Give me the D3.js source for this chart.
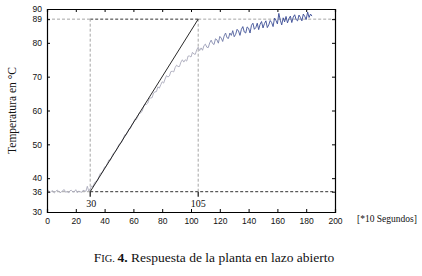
<!DOCTYPE html>
<html><head><meta charset="utf-8">
<script src="https://cdn.jsdelivr.net/npm/d3@7"></script>
<style>body{margin:0;background:#fff}svg{display:block}</style>
</head><body>
<svg id="c" width="422" height="276"></svg>
<script>
// ---- data ----
const xTicks = [0,20,40,60,80,100,120,140,160,180,200];
const yTickValues = [30,36,40,50,60,70,80,87,90];
const yTickLabels = ["30","36","40","50","60","70","80","89","90"];
const tStart = 0; // first sample (x units of 10 s), one sample per unit
const temperature = [
 36.0,36.4,35.7,36.1,36.3,35.6,36.0,36.5,36.2,35.7,35.9,36.4,36.6,35.8,36.1,35.6,36.3,36.4,35.9,36.0,36.6,35.7,36.2,36.0,35.8,36.4,36.3,36.1,37.6,36.2,
 36.8,37.7,37.5,38.7,39.0,39.2,40.4,41.4,41.5,42.3,
 43.3,43.5,44.4,45.4,45.3,46.3,47.3,47.7,48.1,49.1,
 50.0,50.2,50.7,51.8,52.8,52.8,53.7,54.6,54.7,55.8,
 56.5,57.4,57.3,58.2,59.2,59.3,59.7,61.0,61.9,61.8,
 62.2,63.5,63.7,63.8,65.2,65.5,65.6,67.0,66.6,67.6,
 68.5,68.1,69.3,70.3,69.9,70.2,71.5,71.6,71.4,72.7,
 73.4,73.0,73.0,74.3,75.0,74.3,75.0,74.6,76.1,76.1,
 75.8,77.2,76.7,76.6,78.0,78.7,77.7,78.5,77.8,79.2,
 79.6,78.7,78.6,80.0,80.8,79.8,79.5,81.2,80.9,79.9,
 81.9,81.4,80.4,82.0,82.9,81.5,81.3,82.9,82.2,83.6,
 81.8,82.5,84.0,83.5,82.2,84.0,84.8,83.2,82.9,84.7,
 84.3,82.9,85.2,85.8,84.0,84.5,85.8,83.9,85.5,86.3,
 84.4,85.7,86.5,84.5,85.3,86.6,86.0,84.8,87.3,86.6,
 85.6,88.7,86.7,85.3,87.4,86.2,87.8,85.9,87.1,87.9,
 86.0,87.6,88.3,86.9,86.5,88.2,87.5,86.5,88.5,87.8,
 86.9,89.1,87.5,88.5,87.9
];
const tangentPts = [[30,36],[105,87]];
const lowLevel = 36, highLevel = 87;
const tDelay = 30, tReach = 105;
const markLabels = ["30","105"];

// ---- chart ----
const svg = d3.select("#c");
const x = d3.scaleLinear().domain([0,200]).range([47,335]);
const y = d3.scaleLinear().domain([30,90]).range([212,9]);
const data = temperature.map((v,i)=>[tStart+i, v]);

const defs = svg.append("defs");
const g = defs.append("linearGradient").attr("id","gr").attr("gradientUnits","userSpaceOnUse")
  .attr("x1", x(0)).attr("x2", x(200)).attr("y1",0).attr("y2",0);
g.append("stop").attr("offset", (x(105)-x(0))/(x(200)-x(0))).attr("stop-color","#aaaabb");
g.append("stop").attr("offset", (x(135)-x(0))/(x(200)-x(0))).attr("stop-color","#3d4f95");
g.append("stop").attr("offset", 1).attr("stop-color","#2e4090");

const light = "#a6a6a6", dark = "#333";
function hline(v, x0, x1, col){
  svg.append("line").attr("x1",x(x0)).attr("x2",x(x1)).attr("y1",y(v)).attr("y2",y(v))
   .attr("stroke",col).attr("stroke-width",1).attr("stroke-dasharray","3,2");
}
function vline(t, v0, v1, col){
  svg.append("line").attr("x1",x(t)).attr("x2",x(t)).attr("y1",y(v0)).attr("y2",y(v1))
   .attr("stroke",col).attr("stroke-width",1).attr("stroke-dasharray","3,2");
}
hline(lowLevel, 0, tDelay, light);
hline(lowLevel, tDelay, 200, dark);
hline(highLevel, 0, tDelay, light);
hline(highLevel, tDelay, tReach, dark);
hline(highLevel, tReach, 200, light);
vline(tDelay, lowLevel, highLevel, light);
vline(tReach, lowLevel, highLevel, light);

svg.append("path").datum(data)
  .attr("d", d3.line().x(d=>x(d[0])).y(d=>y(d[1])))
  .attr("fill","none").attr("stroke","url(#gr)").attr("stroke-width",0.9);

svg.append("path").datum(tangentPts)
  .attr("d", d3.line().x(d=>x(d[0])).y(d=>y(d[1])))
  .attr("fill","none").attr("stroke","#111").attr("stroke-width",0.9);

[tDelay, tReach].forEach((t,i)=>{
  svg.append("line").attr("x1",x(t)).attr("x2",x(t)).attr("y1",y(lowLevel)).attr("y2",y(lowLevel)+5)
   .attr("stroke","#111").attr("stroke-width",1.2);
  svg.append("text").attr("x",x(t)+(i===0?1:0)).attr("y",y(lowLevel)+15).attr("text-anchor","middle")
   .attr("font-family","Liberation Serif").attr("font-size",10).attr("fill","#111").text(markLabels[i]);
});

const fontTick = "Liberation Sans";
const ax = svg.append("g").attr("transform",`translate(0,${y(30)})`)
  .call(d3.axisBottom(x).tickValues(xTicks).tickSize(-3).tickPadding(6));
const axT = svg.append("g").attr("transform",`translate(0,${y(90)})`)
  .call(d3.axisTop(x).tickValues(xTicks).tickSize(-3).tickFormat(""));
const ay = svg.append("g").attr("transform",`translate(${x(0)},0)`)
  .call(d3.axisLeft(y).tickValues(yTickValues).tickSize(-3).tickPadding(5)
    .tickFormat((d,i)=>yTickLabels[i]));
const ayR = svg.append("g").attr("transform",`translate(${x(200)},0)`)
  .call(d3.axisRight(y).tickValues(yTickValues).tickSize(-3).tickFormat(""));
[ax,axT,ay,ayR].forEach(a=>{
  a.select(".domain").attr("stroke","#000").attr("stroke-width",1.2);
  a.selectAll(".tick line").attr("stroke","#000");
  a.selectAll("text").attr("font-family",fontTick).attr("font-size",8.5).attr("fill","#111");
});

svg.append("text").attr("transform",`translate(16,${(y(30)+y(90))/2}) rotate(-90)`)
  .attr("text-anchor","middle").attr("font-family","Liberation Serif").attr("font-size",11.5)
  .attr("fill","#111").text("Temperatura en °C");
svg.append("text").attr("x",357).attr("y",222).attr("font-family","Liberation Serif")
  .attr("font-size",9.5).attr("fill","#111").text("[*10 Segundos]");
const cap = svg.append("text").attr("x",214).attr("y",262).attr("text-anchor","middle")
  .attr("font-family","Liberation Serif").attr("font-size",13.5).attr("fill","#111");
cap.append("tspan").text("F");
cap.append("tspan").attr("font-size",10.5).text("IG. ");
cap.append("tspan").attr("font-weight","bold").text("4.");
cap.append("tspan").text(" Respuesta de la planta en lazo abierto");
</script>
</body></html>
